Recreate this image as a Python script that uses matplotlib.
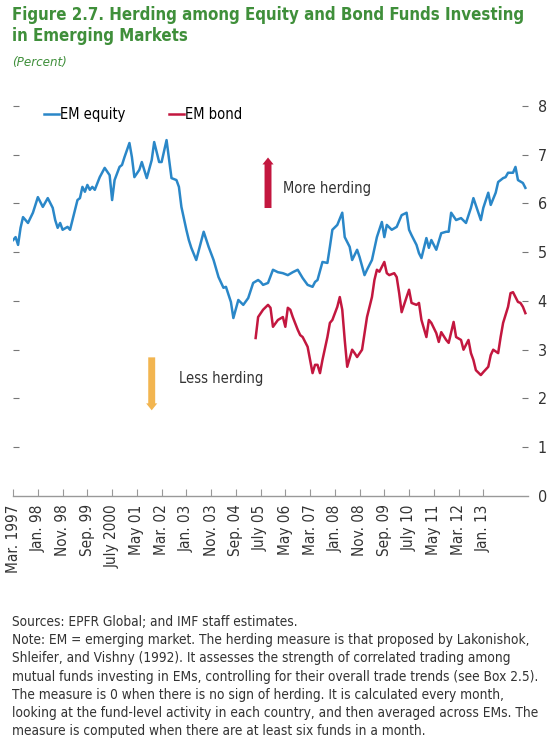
import matplotlib
matplotlib.use('Agg')
import matplotlib.pyplot as plt
from matplotlib import font_manager

# months counted from Mar. 1997, values in percent
equity_month = [0, 1, 2, 3, 4, 6, 8, 10, 12, 14, 16, 17, 18, 19, 20, 22, 23, 25, 26, 27,
                28, 29, 30, 31, 32, 33, 35, 37, 39, 40, 41, 43, 44, 45, 47, 48, 49, 51, 52, 54,
                56, 57, 59, 60, 62, 64, 66, 67, 68, 70, 71, 72, 74, 77, 79, 81, 83, 85, 86, 88,
                89, 91, 93, 95, 97, 99, 100, 101, 103, 105, 107, 109, 111, 113, 115, 117, 119, 121, 122, 123,
                125, 127, 128, 129, 131, 133, 134, 136, 137, 139, 140, 142, 143, 145, 147, 149, 150, 151, 153, 155,
                157, 159, 160, 161, 163, 164, 165, 167, 168, 169, 171, 173, 175, 176, 177, 179, 181, 183, 185, 186,
                188, 189, 190, 192, 193, 195, 196, 198, 199, 200, 202, 203, 204, 206, 207]
equity = [5.25, 5.31, 5.15, 5.50, 5.72, 5.60, 5.81, 6.13, 5.93, 6.11, 5.91, 5.66, 5.50, 5.60, 5.46, 5.52, 5.46, 5.87, 6.07, 6.11,
          6.34, 6.24, 6.38, 6.28, 6.34, 6.28, 6.54, 6.73, 6.58, 6.07, 6.48, 6.75, 6.79, 6.95, 7.24, 6.95, 6.54, 6.69, 6.85, 6.52,
          6.89, 7.26, 6.85, 6.85, 7.30, 6.52, 6.48, 6.34, 5.93, 5.46, 5.25, 5.09, 4.84, 5.42, 5.11, 4.84, 4.49, 4.27, 4.29, 3.98,
          3.65, 4.02, 3.92, 4.06, 4.37, 4.43, 4.39, 4.33, 4.37, 4.64, 4.59, 4.57, 4.53, 4.59, 4.64, 4.47, 4.33, 4.29, 4.39, 4.43,
          4.80, 4.78, 5.11, 5.46, 5.56, 5.81, 5.31, 5.11, 4.84, 5.05, 4.90, 4.53, 4.64, 4.84, 5.31, 5.62, 5.31, 5.56, 5.46, 5.52,
          5.76, 5.81, 5.46, 5.35, 5.15, 4.98, 4.88, 5.29, 5.09, 5.25, 5.05, 5.39, 5.42, 5.42, 5.81, 5.66, 5.70, 5.60, 5.91, 6.11,
          5.81, 5.66, 5.91, 6.22, 5.97, 6.22, 6.44, 6.52, 6.54, 6.63, 6.63, 6.75, 6.48, 6.42, 6.32]

bond_month = [98, 99, 101, 103, 104, 105, 107, 109, 110, 111, 112, 113, 115, 116, 117, 119, 120, 121, 122, 123,
              124, 125, 127, 128, 129, 131, 132, 133, 134, 135, 137, 138, 139, 141, 143, 145, 146, 147, 148, 150,
              151, 152, 154, 155, 156, 157, 159, 160, 161, 163, 164, 165, 167, 168, 169, 171, 172, 173, 175, 176,
              178, 179, 181, 182, 184, 185, 186, 187, 189, 190, 192, 193, 194, 196, 197, 198, 200, 201, 202, 204,
              205, 206, 207]
bond = [3.24, 3.67, 3.82, 3.92, 3.86, 3.47, 3.61, 3.67, 3.47, 3.86, 3.82, 3.67, 3.41, 3.30, 3.26, 3.06, 2.79, 2.52, 2.69, 2.69,
        2.52, 2.79, 3.26, 3.55, 3.61, 3.88, 4.08, 3.82, 3.20, 2.65, 3.00, 2.93, 2.85, 3.00, 3.67, 4.08, 4.43, 4.64, 4.60, 4.80,
        4.57, 4.53, 4.57, 4.49, 4.16, 3.77, 4.08, 4.23, 3.96, 3.92, 3.96, 3.61, 3.26, 3.61, 3.55, 3.34, 3.16, 3.36, 3.20, 3.14,
        3.57, 3.26, 3.20, 3.00, 3.20, 2.93, 2.79, 2.58, 2.48, 2.54, 2.65, 2.89, 3.00, 2.93, 3.26, 3.55, 3.88, 4.16, 4.18, 3.98,
        3.96, 3.88, 3.75]

tick_months = list(range(0, 200, 10))
tick_labels = ['Mar. 1997', 'Jan. 98', 'Nov. 98', 'Sep. 99', 'July 2000', 'May 01', 'Mar. 02', 'Jan. 03',
               'Nov. 03', 'Sep. 04', 'July 05', 'May 06', 'Mar. 07', 'Jan. 08', 'Nov. 08', 'Sep. 09',
               'July 10', 'May 11', 'Mar. 12', 'Jan. 13']

# use a condensed face when one is installed
condensed = [f for f in font_manager.fontManager.ttflist
             if f.name == 'DejaVu Sans' and 'ondensed' in str(f.stretch) + f.fname]
if condensed:
    plt.rcParams['font.stretch'] = 'condensed'
plt.rcParams['font.family'] = ['DejaVu Sans']

green = '#3f8f3a'
blue = '#2a87c8'
red = '#c3173f'
gray = '#333333'

fig = plt.figure(figsize=(5.47, 7.51), dpi=100)
ax = fig.add_axes([0.024, 0.3396, 0.941, 0.5193])

ax.plot(equity_month, equity, color=blue, lw=1.8, label='EM equity')
ax.plot(bond_month, bond, color=red, lw=1.8, label='EM bond')

ax.set_xlim(0, 208)
ax.set_ylim(0, 8)
for s in ['top', 'left', 'right']:
    ax.spines[s].set_visible(False)
ax.spines['bottom'].set_color('#999999')
ax.spines['bottom'].set_linewidth(1.0)

ax.set_xticks(tick_months)
ax.set_xticklabels(tick_labels, rotation=90, fontsize=11, color=gray)
ax.tick_params(axis='x', direction='in', length=5, color='#999999', pad=6)

ax.set_yticks(range(0, 9))
ax.tick_params(axis='y', which='both', left=True, right=True, labelleft=False,
               labelright=True, direction='in', length=4, color='#777777',
               labelsize=11.5, labelcolor=gray, pad=7)
ax.yaxis.get_major_ticks()[0].tick1line.set_visible(False)
ax.yaxis.get_major_ticks()[0].tick2line.set_visible(False)

leg = ax.legend(loc='upper left', bbox_to_anchor=(0.035, 1.03), ncol=2, frameon=False,
                fontsize=10.5, handlelength=1.0, handletextpad=0.1, columnspacing=3.0)

# arrows
ax.annotate('', xy=(103, 7.0), xytext=(103, 5.85),
            arrowprops=dict(arrowstyle='simple,head_width=0.8,head_length=0.5,tail_width=0.5',
                            color=red, lw=0))
ax.text(109, 6.3, 'More herding', fontsize=10.5, color=gray, va='center')
ax.annotate('', xy=(56, 1.7), xytext=(56, 2.9),
            arrowprops=dict(arrowstyle='simple,head_width=0.8,head_length=0.5,tail_width=0.5',
                            color='#f2b550', lw=0))
ax.text(67, 2.4, 'Less herding', fontsize=10.5, color=gray, va='center')

title = fig.text(0.022, 0.992, 'Figure 2.7. Herding among Equity and Bond Funds Investing\nin Emerging Markets',
                 fontsize=13.5, fontweight='bold', color=green, va='top', linespacing=1.2)
fig.text(0.022, 0.926, '(Percent)', fontsize=9.5, style='italic', color=green, va='top')

notes = ('Sources: EPFR Global; and IMF staff estimates.\n'
         'Note: EM = emerging market. The herding measure is that proposed by Lakonishok,\n'
         'Shleifer, and Vishny (1992). It assesses the strength of correlated trading among\n'
         'mutual funds investing in EMs, controlling for their overall trade trends (see Box 2.5).\n'
         'The measure is 0 when there is no sign of herding. It is calculated every month,\n'
         'looking at the fund-level activity in each country, and then averaged across EMs. The\n'
         'measure is computed when there are at least six funds in a month.')
note = fig.text(0.022, 0.181, notes, fontsize=10, color=gray, va='top', linespacing=1.38)

# shrink the long texts so they fit the same width as in the print
r = fig.canvas.get_renderer()
for t, target in [(title, 512), (note, 526)]:
    w = t.get_window_extent(r).width
    if w > target:
        t.set_fontsize(t.get_fontsize() * target / w)

fig.savefig('out.png', dpi=100)
